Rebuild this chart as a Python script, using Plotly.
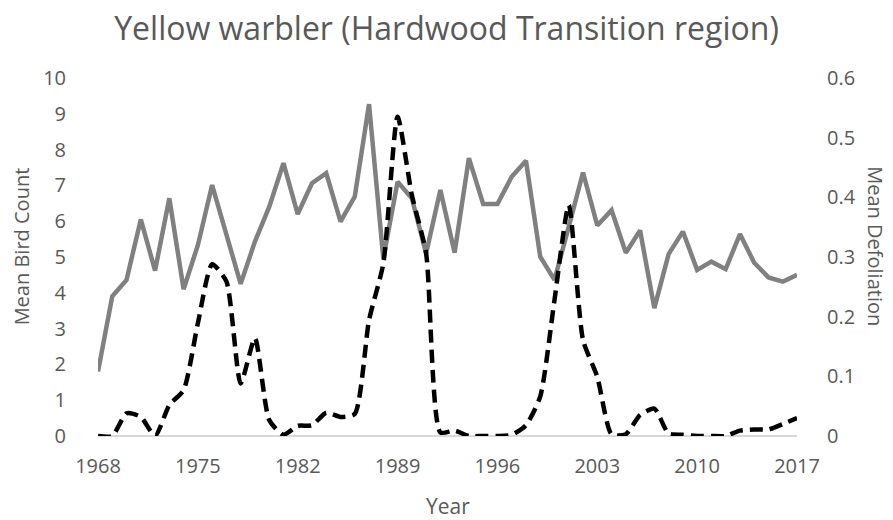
import plotly.graph_objects as go

years = list(range(1968, 2018))
bird_count = [1.8, 3.9, 4.36, 6.05, 4.62, 6.64, 4.1, 5.33, 7.01, 5.66,
              4.25, 5.43, 6.4, 7.62, 6.2, 7.06, 7.34, 5.99, 6.69, 9.27,
              4.96, 7.1, 6.64, 5.1, 6.87, 5.12, 7.76, 6.48, 6.48, 7.24,
              7.69, 5.01, 4.36, 5.85, 7.36, 5.88, 6.31, 5.12, 5.74, 3.57,
              5.08, 5.71, 4.64, 4.87, 4.66, 5.64, 4.84, 4.43, 4.31, 4.5]
defoliation = [0.0, 0.0, 0.038, 0.032, 0.0, 0.052, 0.077, 0.189, 0.288, 0.259,
               0.088, 0.164, 0.027, 0.002, 0.017, 0.018, 0.039, 0.032, 0.037, 0.194,
               0.289, 0.535, 0.404, 0.306, 0.006, 0.009, 0.0, 0.0, 0.0, 0.002,
               0.018, 0.066, 0.228, 0.387, 0.161, 0.099, 0.003, 0.003, 0.035, 0.046,
               0.004, 0.002, 0.0, 0.0, 0.0, 0.009, 0.011, 0.011, 0.02, 0.03]
x_ticks = list(range(1968, 2018, 7))
left_ticks = list(range(0, 11))
right_ticks = [0, 0.1, 0.2, 0.3, 0.4, 0.5, 0.6]
right_tick_text = ["0", "0.1", "0.2", "0.3", "0.4", "0.5", "0.6"]

FONT = "'Open Sans', sans-serif"
TXT = "#595959"
TICK = 20

fig = go.Figure()
fig.add_trace(go.Scatter(x=years, y=bird_count, mode="lines",
                         line=dict(color="#808080", width=4.5),
                         name="Mean Bird Count", yaxis="y"))
fig.add_trace(go.Scatter(x=years, y=defoliation, mode="lines",
                         line=dict(color="#000000", width=4.5, dash="13px,7px",
                                   shape="spline", smoothing=0.6),
                         name="Mean Defoliation", yaxis="y2"))

fig.update_layout(
    width=893, height=520,
    margin=dict(l=98, r=96, t=78, b=84),
    paper_bgcolor="white", plot_bgcolor="white",
    showlegend=False,
    font=dict(family=FONT, color=TXT, size=TICK),
    title=dict(text="Yellow warbler (Hardwood Transition region)",
               x=0.5, xanchor="center", y=0.945, yanchor="middle",
               font=dict(family=FONT, size=32, color=TXT)),
    xaxis=dict(range=[1968, 2017], tickmode="array", tickvals=x_ticks,
               ticktext=[str(t) for t in x_ticks],
               showgrid=False, zeroline=False, showline=False,
               ticks="", ticklabelstandoff=16,
               tickfont=dict(size=TICK, color=TXT)),
    yaxis=dict(range=[0, 10], tickmode="array", tickvals=left_ticks,
               showgrid=False, zeroline=True, zerolinecolor="#d9d9d9",
               zerolinewidth=1.5, showline=False, ticks="",
               ticklabelstandoff=31,
               tickfont=dict(size=TICK, color=TXT)),
    yaxis2=dict(range=[0, 0.6], tickmode="array", tickvals=right_ticks,
                ticktext=right_tick_text, overlaying="y", side="right",
                showgrid=False, zeroline=False, showline=False, ticks="",
                ticklabelstandoff=29,
                tickfont=dict(size=TICK, color=TXT)),
    annotations=[
        dict(text="Year", xref="paper", yref="paper", x=0.5, y=-0.196,
             xanchor="center", yanchor="middle", showarrow=False,
             font=dict(size=21, color=TXT, family=FONT)),
        dict(text="Mean Bird Count", xref="paper", yref="paper",
             x=-0.11, y=0.53, xanchor="center", yanchor="middle",
             textangle=-90, showarrow=False,
             font=dict(size=20, color=TXT, family=FONT)),
        dict(text="Mean Defoliation", xref="paper", yref="paper",
             x=1.113, y=0.53, xanchor="center", yanchor="middle",
             textangle=90, showarrow=False,
             font=dict(size=20, color=TXT, family=FONT)),
    ],
)

fig.write_html("out.html", config={"displayModeBar": False},
               post_script="document.body.style.margin='0px';")
